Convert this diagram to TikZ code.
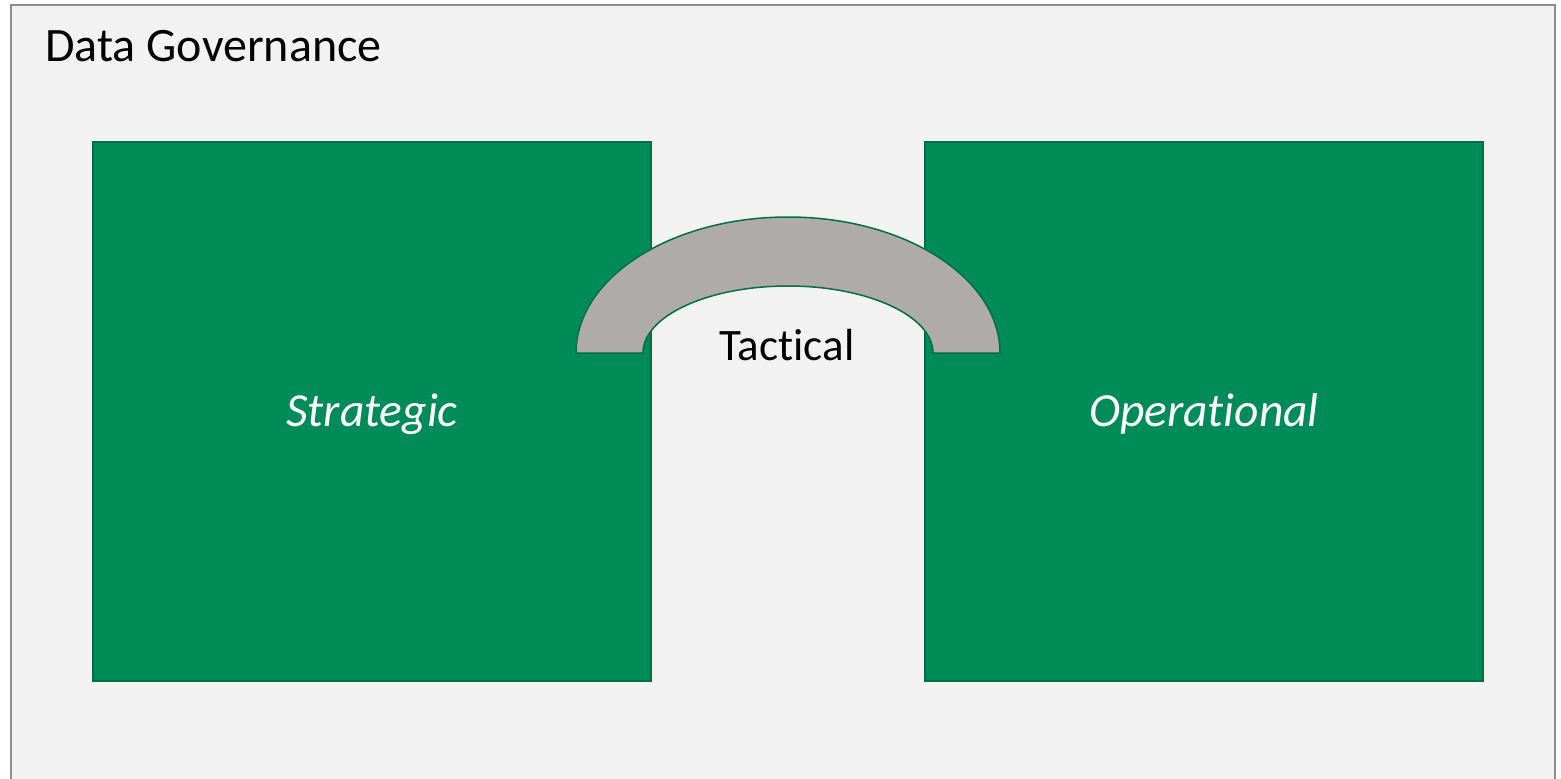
\documentclass[tikz,border=0pt]{standalone}
\usepackage{fontspec}
\setmainfont{Carlito}[Ligatures=NoCommon]
\usepackage{tikz}

\definecolor{paneGray}{HTML}{F2F2F2}
\definecolor{frameGray}{HTML}{8C8C8C}
\definecolor{govGreen}{HTML}{008C5A}
\definecolor{govEdge}{HTML}{006E46}
\definecolor{archGray}{HTML}{AEABAA}

\begin{document}
\begin{tikzpicture}[x=1pt, y=1pt,
    greenbox/.style={rectangle, draw=govEdge, line width=1.5pt, fill=govGreen,
      minimum width=558pt, minimum height=539pt, inner sep=0pt},
    boxtext/.style={anchor=base, inner sep=0pt, text=white,
      font=\fontsize{47.5}{52}\selectfont\itshape}]
        % Page and frame
        \clip (0,0) rectangle (1561,-779);
        \fill[white] (0,0) rectangle (1561,-779);
        \draw[frameGray, fill=paneGray, line width=2pt] (11,-5) rectangle (1555,-800);
        \node[anchor=base west, inner sep=0pt, font=\fontsize{48}{52}\selectfont] (title) at (45,-61) {Data Governance};

        % Draw blocks
        \node[greenbox] (strategic) at (372,-411.5) {};
        \node[greenbox] (operational) at (1204,-411.5) {};
        \node[boxtext] (strategicText) at (strategic.center |- 0,-426) {Strategic};
        \node[boxtext] (operationalText) at (operational.center |- 0,-426) {Operational};

        % Draw arch
        \draw[govEdge, fill=archGray, line width=1.5pt]
          (576,-353) arc[start angle=180, end angle=0, x radius=212, y radius=136]
          -- (933,-353) arc[start angle=0, end angle=180, x radius=145, y radius=67]
          -- cycle;
        \node[anchor=base, inner sep=0pt, font=\fontsize{45}{50}\selectfont] (tactical) at (787,-360) {Tactical};
      \end{tikzpicture}
\end{document}
